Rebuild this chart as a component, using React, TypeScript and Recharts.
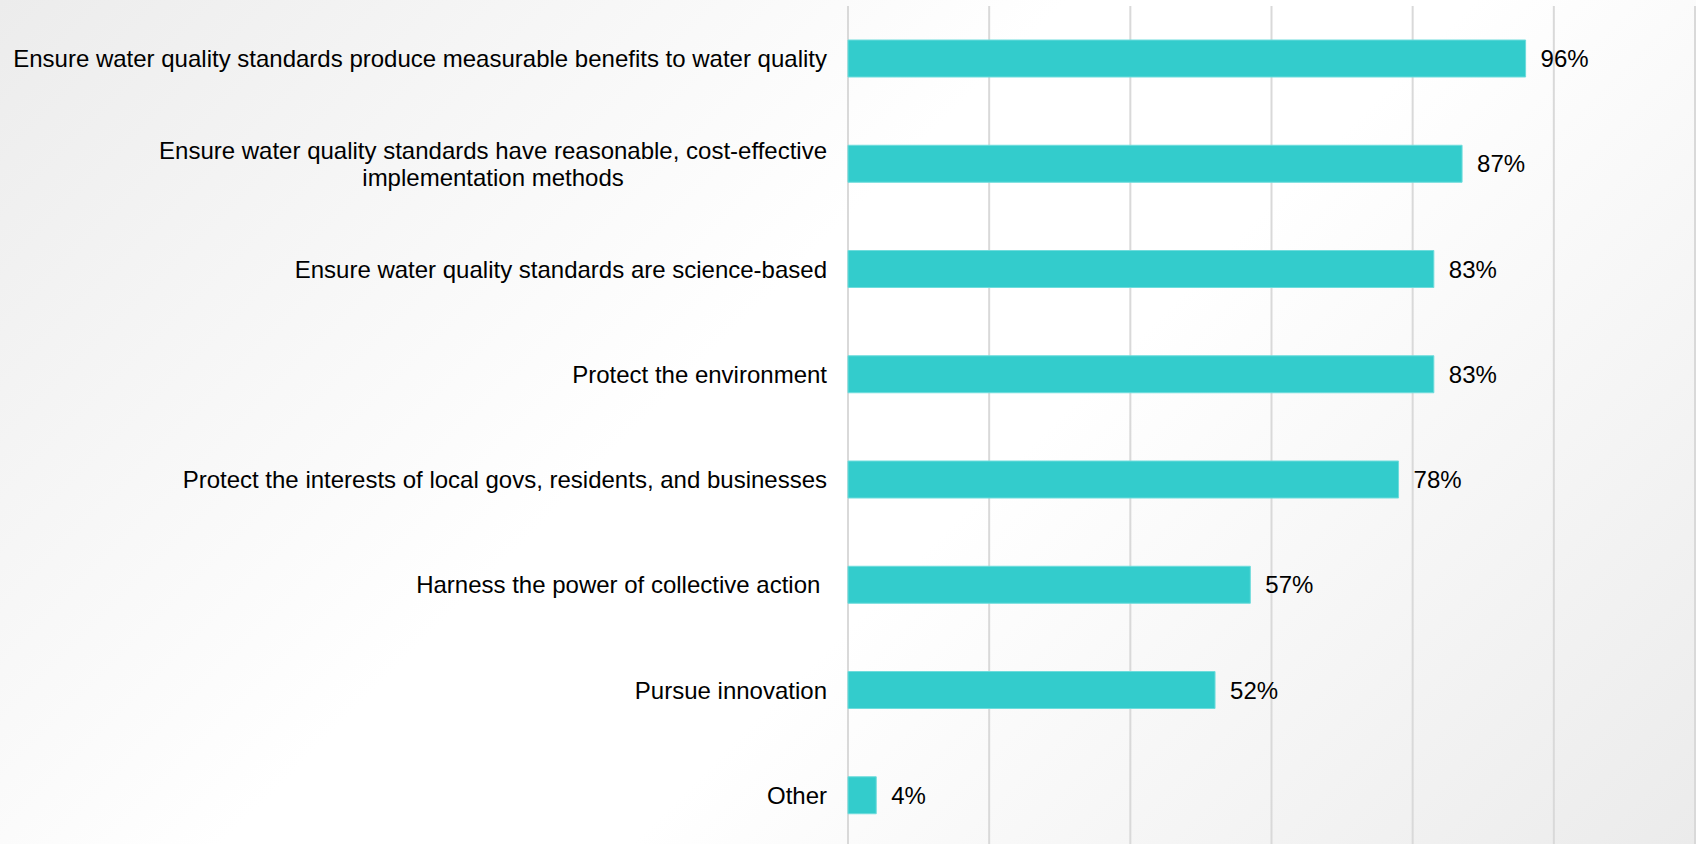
import React from "react";
import {
  BarChart,
  Bar,
  XAxis,
  YAxis,
  CartesianGrid,
  LabelList,
} from "recharts";

const categories: string[] = [
  "Ensure water quality standards produce measurable benefits to water quality",
  "Ensure water quality standards have reasonable, cost-effective\nimplementation methods",
  "Ensure water quality standards are science-based",
  "Protect the environment",
  "Protect the interests of local govs, residents, and businesses",
  "Harness the power of collective action ",
  "Pursue innovation",
  "Other",
];

const shares: number[] = [96, 87, 83, 83, 78, 57, 52, 4];

const xTicks: number[] = [0, 20, 40, 60, 80, 100, 120];

const chartData = categories.map((name, i) => ({ name, value: shares[i] }));

const FONT = "'Liberation Sans', Arial, Helvetica, sans-serif";
const FONT_SIZE = 24;
const LINE_HEIGHT = 27.5;

let measureCtx: CanvasRenderingContext2D | null = null;
const measure = (text: string): number => {
  if (!measureCtx) {
    const canvas = document.createElement("canvas");
    measureCtx = canvas.getContext("2d");
  }
  if (!measureCtx) return text.length * FONT_SIZE * 0.5;
  measureCtx.font = `${FONT_SIZE}px 'Liberation Sans', Arial, sans-serif`;
  return measureCtx.measureText(text).width;
};

const CategoryTick: React.FC<any> = ({ x, y, payload }) => {
  const lines = String(payload.value).split("\n");
  const widest = Math.max(...lines.map((l) => measure(l.trimEnd())));
  // wrapped labels are centred on each other, block right edge sits at x
  const cx = lines.length > 1 ? x - widest / 2 : x;
  const anchor = lines.length > 1 ? "middle" : "end";
  return (
    <g>
      {lines.map((line, i) => (
        <text
          key={i}
          x={cx}
          y={y + (i - (lines.length - 1) / 2) * LINE_HEIGHT}
          dy="0.355em"
          textAnchor={anchor}
          fill="#000"
          fontSize={FONT_SIZE}
          fontFamily={FONT}
          style={{ whiteSpace: "pre" }}
        >
          {line}
        </text>
      ))}
    </g>
  );
};

const App: React.FC = () => {
  return (
    <div
      style={{
        width: 1696,
        height: 844,
        overflow: "hidden",
        background:
          "linear-gradient(135deg, #ececec 0%, #ffffff 42%, #ffffff 58%, #ebebeb 100%)",
      }}
    >
      <style>{`body { margin: 0; }`}</style>
      <BarChart
        width={1696}
        height={848}
        data={chartData}
        layout="vertical"
        margin={{ top: 6, right: 1, bottom: 0, left: 0 }}
      >
        <CartesianGrid horizontal={false} stroke="#d9d9d9" strokeWidth={2} />
        <XAxis type="number" domain={[0, 120]} ticks={xTicks} hide />
        <YAxis
          type="category"
          dataKey="name"
          width={848}
          axisLine={false}
          tickLine={false}
          tickSize={0}
          tickMargin={21}
          interval={0}
          tick={<CategoryTick />}
        />
        <Bar
          dataKey="value"
          fill="#33cccc"
          stroke="#6fdcdc"
          strokeWidth={1}
          barSize={37}
          isAnimationActive={false}
        >
          <LabelList
            dataKey="value"
            position="right"
            offset={15}
            formatter={(v: any) => `${v}%`}
            fill="#000"
            fontSize={FONT_SIZE}
            fontFamily={FONT}
          />
        </Bar>
      </BarChart>
    </div>
  );
};

export default App;
